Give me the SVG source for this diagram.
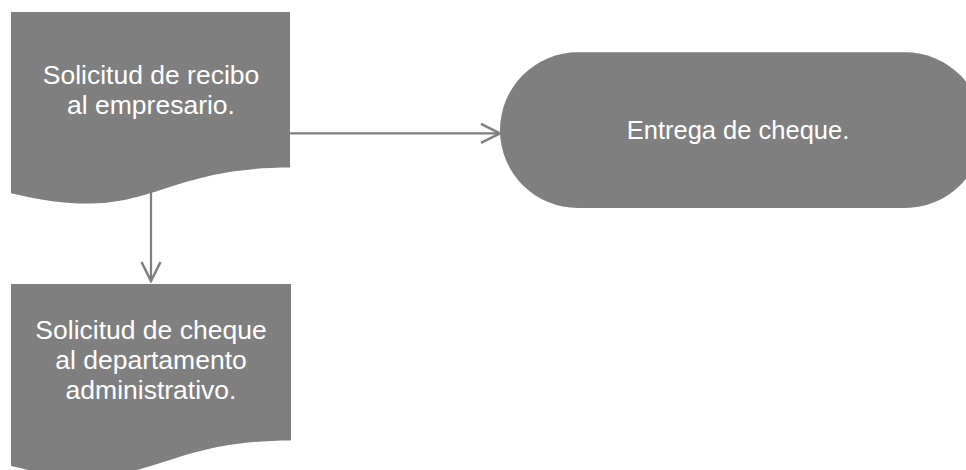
<svg xmlns="http://www.w3.org/2000/svg" width="966" height="470" viewBox="0 0 966 470">
  <style>
    .shape { fill: #7f7f7f; stroke: none; }
    .label { fill: #ffffff; font-family: "Liberation Sans", Arial, sans-serif; font-size: 26.5px; text-anchor: middle; }
    .conn { fill: none; stroke: #7f7f7f; stroke-width: 2.25; }
  </style>
  <defs>
    <marker id="arrow" markerUnits="userSpaceOnUse" viewBox="-22 -12 24 24" markerWidth="24" markerHeight="24" refX="0" refY="0" orient="auto">
      <path d="M-19,-9.5 L0,0 L-19,9.5" fill="none" stroke="#7f7f7f" stroke-width="2.5" stroke-linejoin="miter"/>
    </marker>
  </defs>
  <rect width="966" height="470" fill="#ffffff"/>

  <g id="connectors">
    <line class="conn" x1="290" y1="133.3" x2="500" y2="133.3" marker-end="url(#arrow)"/>
    <line class="conn" x1="151" y1="190" x2="151" y2="281" marker-end="url(#arrow)"/>
  </g>

  <g id="node-recibo">
    <path class="shape" d="M11,12 H290 V167.6 C150.5,167.6 150.5,226.9 11,193.2 Z"/>
    <text class="label" x="151" y="84.3">Solicitud de recibo</text>
    <text class="label" x="151" y="114">al empresario.</text>
  </g>

  <g id="node-cheque-solicitud">
    <path class="shape" d="M11,284 H291 V440.4 C151,440.4 151,500 11,466.1 Z"/>
    <text class="label" x="151" y="339.3">Solicitud de cheque</text>
    <text class="label" x="151" y="369.3">al departamento</text>
    <text class="label" x="151" y="399.3">administrativo.</text>
  </g>

  <g id="node-entrega">
    <rect class="shape" x="500" y="52.3" width="483" height="155.7" rx="78" ry="78"/>
    <text class="label" x="738" y="139.3" style="font-size:25.5px">Entrega de cheque.</text>
  </g>
</svg>
